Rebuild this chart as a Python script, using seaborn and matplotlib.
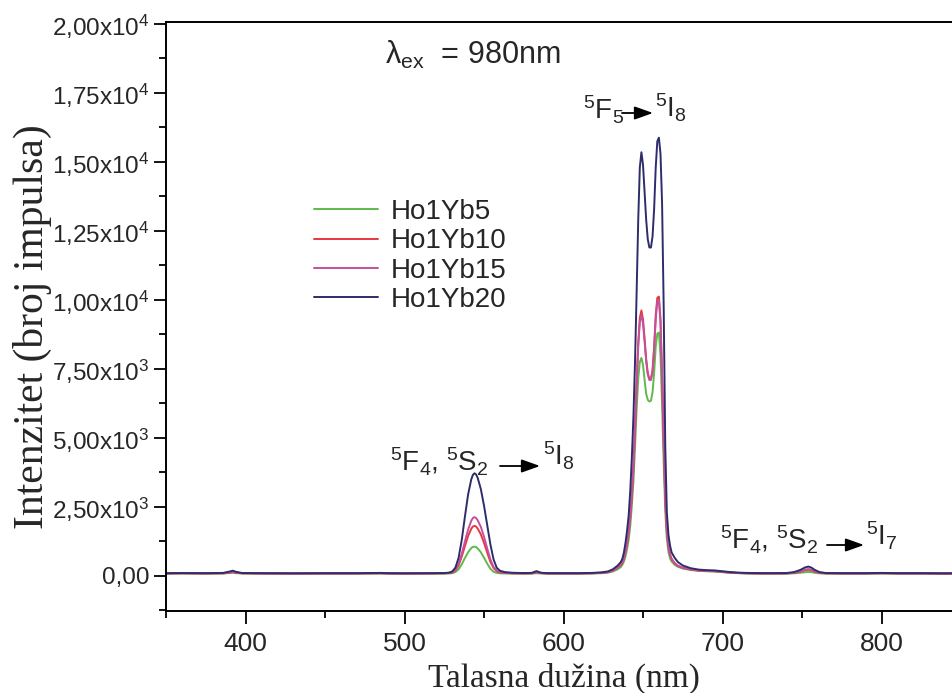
import math

import matplotlib
matplotlib.use("Agg")
import matplotlib.pyplot as plt
import matplotlib.ticker as mticker
from matplotlib import font_manager
import pandas as pd
import seaborn as sns

# wavelength grid (nm), shared by all samples
wavelength = [
    350, 360, 375, 386, 390, 392, 394, 398, 410, 430, 450, 470, 485, 490, 500, 515, 525,
    528, 530, 532, 534, 536, 538, 540, 542, 543, 544, 545, 546, 548, 550, 552, 554, 556, 558, 560, 563, 568,
    575, 580, 583, 586, 590, 600, 610, 618, 624, 628, 631, 634,
    636, 637, 638, 639, 640, 641, 642, 643, 644, 645, 646, 647, 648, 649, 650, 651, 652,
    653, 654, 655, 656, 657, 658, 659, 660, 661, 662, 663, 664, 665, 666, 667, 668,
    670, 672, 675, 680, 685, 690, 695, 700, 705, 710, 715, 720, 730, 740, 745, 749, 752,
    754, 756, 758, 761, 765, 775, 790, 800, 810, 825, 840, 850,
]

ho1yb5 = [
    85, 90, 85, 90, 105, 115, 100, 90, 85, 85, 85, 85, 90, 85, 85, 85, 85,
    90, 100, 140, 240, 420, 650, 860, 1010, 1050, 1062, 1050, 1000, 860, 660, 450, 260, 150, 110, 95, 90, 85,
    85, 85, 100, 90, 85, 85, 85, 90, 100, 120, 160, 240,
    320, 400, 520, 710, 970, 1320, 1820, 2550, 3450, 4700, 6050, 7150, 7750, 7900, 7650, 7100, 6600,
    6380, 6320, 6350, 6650, 7350, 8300, 8780, 8820, 8000, 6200, 4100, 2350, 1350, 870, 640, 520,
    400, 330, 270, 215, 185, 170, 160, 135, 110, 100, 90, 85, 85, 85, 95, 115, 135,
    145, 135, 115, 95, 85, 85, 85, 90, 85, 85, 80, 85,
]

ho1yb10 = [
    90, 95, 90, 95, 120, 140, 115, 95, 90, 90, 90, 90, 95, 90, 90, 90, 95,
    105, 125, 200, 380, 700, 1080, 1450, 1710, 1790, 1815, 1790, 1720, 1510, 1200, 850, 510, 290, 170, 130, 110, 95,
    90, 95, 130, 100, 90, 90, 90, 95, 110, 135, 190, 290,
    390, 480, 630, 860, 1170, 1570, 2150, 2950, 3950, 5350, 7000, 8450, 9350, 9620, 9300, 8600, 7850,
    7350, 7150, 7140, 7450, 8300, 9450, 10080, 10120, 9300, 7250, 4900, 2800, 1600, 1050, 770, 610,
    450, 360, 290, 230, 195, 180, 170, 145, 120, 105, 95, 90, 90, 90, 110, 155, 205,
    225, 200, 155, 110, 95, 90, 90, 95, 90, 90, 85, 90,
]

ho1yb15 = [
    95, 100, 95, 100, 130, 150, 125, 100, 95, 90, 95, 95, 100, 95, 90, 95, 100,
    110, 130, 220, 430, 800, 1250, 1680, 2000, 2100, 2130, 2100, 2020, 1780, 1420, 1000, 600, 330, 190, 140, 115, 100,
    95, 100, 140, 105, 95, 95, 95, 100, 115, 140, 200, 300,
    400, 490, 640, 870, 1180, 1580, 2150, 2950, 3950, 5300, 6900, 8300, 9200, 9450, 9150, 8500, 7800,
    7300, 7100, 7100, 7400, 8200, 9300, 9950, 10000, 9200, 7200, 4900, 2800, 1600, 1050, 780, 620,
    460, 370, 300, 240, 200, 185, 175, 150, 125, 110, 100, 95, 95, 95, 115, 170, 230,
    250, 225, 170, 120, 100, 95, 95, 100, 95, 95, 90, 95,
]

ho1yb20 = [
    100, 105, 100, 110, 160, 190, 150, 105, 100, 95, 100, 100, 110, 100, 95, 100, 105,
    120, 160, 300, 650, 1300, 2150, 2950, 3500, 3660, 3720, 3680, 3560, 3150, 2550, 1850, 1150, 600, 300, 190, 140, 115,
    105, 110, 175, 115, 100, 100, 100, 110, 130, 165, 240, 370,
    500, 620, 850, 1200, 1650, 2200, 3100, 4300, 5800, 7800, 10300, 12900, 14800, 15350, 14900, 13900, 12900,
    12200, 11900, 11900, 12300, 13300, 14800, 15750, 15880, 15300, 13500, 9800, 4700, 2300, 1500, 1100, 850,
    650, 500, 380, 280, 230, 210, 200, 170, 140, 120, 110, 105, 100, 105, 140, 220, 310,
    340, 300, 220, 140, 105, 100, 100, 110, 100, 100, 95, 100,
]

samples = ["Ho1Yb5", "Ho1Yb10", "Ho1Yb15", "Ho1Yb20"]
colors = ["#5fb94c", "#e8373f", "#c4509c", "#2e2d6b"]

W, H = 952, 693


def px(x, y):
    # pixel position (from top-left) -> figure fraction
    return x / W, 1 - y / H


def buildFrame():
    frames = []
    for name, vals in zip(samples, [ho1yb5, ho1yb10, ho1yb15, ho1yb20]):
        frames.append(pd.DataFrame({"wavelength": wavelength, "intensity": vals, "sample": name}))
    return pd.concat(frames, ignore_index=True)


def sciLabel(v, pos):
    if abs(v) < 1e-9:
        return "0,00"
    exp = int(math.floor(math.log10(abs(v))))
    mant = v / 10 ** exp
    return f"{mant:.2f}".replace(".", ",") + "x10$^{%d}$" % exp


def transition(fig, left, arrow, right, size=20):
    fig.text(*px(left[1], left[2]), left[0], fontsize=size, ha="left", va="baseline")
    fig.text(*px(right[1], right[2]), right[0], fontsize=size, ha="left", va="baseline")
    fig.patches.append(
        matplotlib.patches.FancyArrowPatch(
            px(arrow[0], arrow[2]), px(arrow[1], arrow[2]),
            transform=fig.transFigure, arrowstyle="-|>,head_length=0.7,head_width=0.25",
            mutation_scale=16, color="black", lw=1.3, shrinkA=0, shrinkB=0,
        )
    )


sns.set_style("ticks")
narrow = "Liberation Sans Narrow"
installed = {f.name for f in font_manager.fontManager.ttflist}
if narrow not in installed:
    narrow = "Liberation Sans"
plt.rcParams["font.family"] = ["Liberation Sans", "DejaVu Sans"]
plt.rcParams["mathtext.fontset"] = "custom"
plt.rcParams["mathtext.rm"] = "Liberation Sans"
plt.rcParams["mathtext.it"] = "Liberation Sans"
plt.rcParams["mathtext.bf"] = "Liberation Sans:bold"

df = buildFrame()

fig = plt.figure(figsize=(W / 100, H / 100), dpi=100)
ax = fig.add_axes([166 / W, 1 - 611 / H, 795 / W, 589 / H])

sns.lineplot(
    data=df, x="wavelength", y="intensity", hue="sample", hue_order=samples,
    palette=colors, estimator=None, linewidth=1.4, ax=ax,
)

ax.set_xlim(350, 850)
ax.set_ylim(-1270, 20070)
ax.xaxis.set_major_locator(mticker.MultipleLocator(100))
ax.xaxis.set_minor_locator(mticker.MultipleLocator(50))
ax.yaxis.set_major_locator(mticker.MultipleLocator(2500))
ax.yaxis.set_minor_locator(mticker.MultipleLocator(1250))
ax.yaxis.set_major_formatter(mticker.FuncFormatter(sciLabel))
ax.tick_params(which="major", direction="out", length=9, width=1.3, color="black")
ax.tick_params(which="minor", direction="out", length=5, width=1.3, color="black")
ax.tick_params(axis="y", labelsize=17.5, pad=3)
ax.tick_params(axis="x", labelsize=19, pad=6)
for lab in ax.get_xticklabels():
    lab.set_fontfamily(narrow)
for sp in ax.spines.values():
    sp.set_linewidth(1.4)
    sp.set_color("black")

ax.set_xlabel("Talasna du\u017eina (nm)", fontfamily="Liberation Serif", fontsize=24, labelpad=5)
ax.set_ylabel("Intenzitet (broj impulsa)", fontfamily="Liberation Serif", fontsize=30)
ax.yaxis.set_label_coords((52 - 166) / 795, (611 - 327) / 589)

handles, labels = ax.get_legend_handles_labels()
ax.legend(
    handles, labels, loc="upper left", bbox_to_anchor=px(314, 199),
    bbox_transform=fig.transFigure, frameon=False, fontsize=20,
    handlelength=2.3, handletextpad=0.45, labelspacing=0.12, borderpad=0, borderaxespad=0,
)

fig.text(*px(385, 64), "\u03bb$_{ex}$  = 980nm", fontsize=22, ha="left", va="baseline")

transition(fig, ("$^{5}$F$_{4}$, $^{5}$S$_{2}$", 390, 471), (500, 540, 466), ("$^{5}$I$_{8}$", 543, 466))
transition(fig, ("$^{5}$F$_{5}$", 583, 120), (622, 653, 113), ("$^{5}$I$_{8}$", 655, 117))
transition(fig, ("$^{5}$F$_{4}$, $^{5}$S$_{2}$", 720, 549), (827, 864, 545), ("$^{5}$I$_{7}$", 866, 545))

fig.savefig("out.png", dpi=100)
